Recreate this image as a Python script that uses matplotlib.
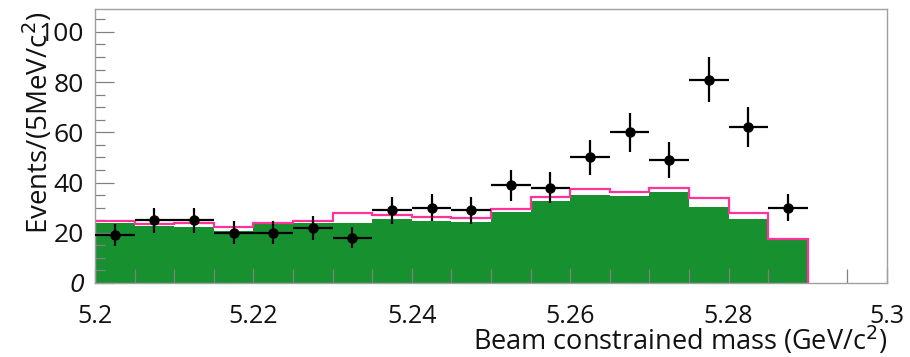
import numpy as np
import matplotlib
matplotlib.use("Agg")
import matplotlib.pyplot as plt
from matplotlib.ticker import MultipleLocator

# 5 MeV bins of the beam constrained mass
bin_edges = [5.200, 5.205, 5.210, 5.215, 5.220, 5.225, 5.230, 5.235, 5.240, 5.245,
             5.250, 5.255, 5.260, 5.265, 5.270, 5.275, 5.280, 5.285, 5.290]
bin_centers = [5.2025, 5.2075, 5.2125, 5.2175, 5.2225, 5.2275, 5.2325, 5.2375, 5.2425,
               5.2475, 5.2525, 5.2575, 5.2625, 5.2675, 5.2725, 5.2775, 5.2825, 5.2875]

# data points and their errors
data_counts = [19, 25, 25, 20, 20, 22, 18, 29, 30, 29, 39, 38, 50, 60, 49, 81, 62, 30]
data_errors = [4.4, 5.0, 5.0, 4.5, 4.5, 4.7, 4.2, 5.4, 5.5, 5.4, 6.2, 6.2, 7.1, 7.7, 7.0, 9.0, 7.9, 5.5]

# background (filled) and total background (outline)
bkg_green = [24.0, 22.8, 22.4, 20.8, 23.4, 23.8, 24.0, 25.5, 24.8, 24.4,
             28.4, 32.7, 35.1, 34.8, 36.1, 30.4, 25.5, 17.5]
bkg_total = [24.8, 23.5, 24.0, 22.4, 24.0, 24.6, 27.8, 27.1, 26.2, 25.8,
             29.5, 34.1, 37.3, 36.4, 37.7, 33.7, 28.0, 17.5]

x_ticks = [5.2, 5.22, 5.24, 5.26, 5.28, 5.3]
x_labels = ["5.2", "5.22", "5.24", "5.26", "5.28", "5.3"]
y_ticks = [0, 20, 40, 60, 80, 100]
y_labels = ["0", "20", "40", "60", "80", "100"]

fig = plt.figure(figsize=(9.1, 3.57), dpi=100)
ax = fig.add_axes([95 / 910, 1 - 283 / 357, 792 / 910, (283 - 9.3) / 357])

ax.stairs(bkg_green, bin_edges, fill=True, color="#17902f", linewidth=0, zorder=1)
ax.stairs(bkg_total, bin_edges, baseline=0, fill=False, color="#ff3399",
          linewidth=1.6, zorder=2)

half_width = [0.0025] * len(bin_centers)
ax.errorbar(bin_centers, data_counts, yerr=data_errors, xerr=half_width,
            fmt="o", color="black", markersize=6.5, elinewidth=1.6, capsize=0, zorder=3)

ax.set_xlim(5.2, 5.3)
ax.set_ylim(0, 109)

for side in ax.spines.values():
    side.set_color("#a0a0a0")
    side.set_linewidth(1.0)

ax.set_xticks(x_ticks, x_labels, fontsize=18, family="Open Sans", color="#111111")
ax.set_yticks(y_ticks, y_labels, fontsize=19, family="Open Sans", color="#111111")
ax.xaxis.set_minor_locator(MultipleLocator(0.005))
ax.yaxis.set_minor_locator(MultipleLocator(5))
ax.get_yticklabels()[0].set_style("italic")

ax.tick_params(axis="both", which="both", direction="in", color="#808080", width=0.9)
ax.tick_params(axis="x", which="major", length=11, pad=15)
ax.tick_params(axis="x", which="minor", length=10)
ax.tick_params(axis="y", which="major", length=14, pad=8)
ax.tick_params(axis="y", which="minor", length=7)

fig.text(0.975, 0.0, "Beam constrained mass (GeV/c$^{2}$)", ha="right", va="bottom",
         fontsize=19.5, family="Open Sans", color="#111111")
fig.text(0.042, 0.655, "Events/(5MeV/c$^{2}$)", ha="center", va="center", rotation=90,
         fontsize=20, family="Open Sans", color="#111111")

fig.savefig("out.png", dpi=100)
